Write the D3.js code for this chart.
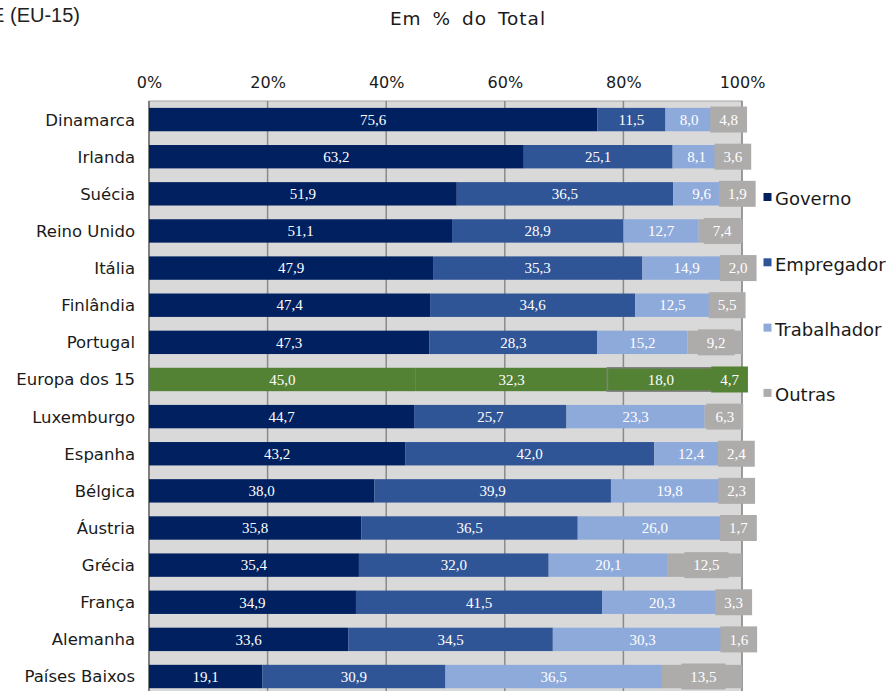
<!DOCTYPE html>
<html><head><meta charset="utf-8">
<script src="https://cdn.jsdelivr.net/npm/d3@7"></script>
<style>body{margin:0;background:#fff;}svg{display:block;}</style>
</head><body>
<svg id="chart" width="896" height="691"></svg>
<script>
const categories = ["Dinamarca","Irlanda","Suécia","Reino Unido","Itália","Finlândia","Portugal","Europa dos 15","Luxemburgo","Espanha","Bélgica","Áustria","Grécia","França","Alemanha","Países Baixos"];
const governo     = [75.6,63.2,51.9,51.1,47.9,47.4,47.3,45.0,44.7,43.2,38.0,35.8,35.4,34.9,33.6,19.1];
const empregador  = [11.5,25.1,36.5,28.9,35.3,34.6,28.3,32.3,25.7,42.0,39.9,36.5,32.0,41.5,34.5,30.9];
const trabalhador = [8.0,8.1,9.6,12.7,14.9,12.5,15.2,18.0,23.3,12.4,19.8,26.0,20.1,20.3,30.3,36.5];
const outras      = [4.8,3.6,1.9,7.4,2.0,5.5,9.2,4.7,6.3,2.4,2.3,1.7,12.5,3.3,1.6,13.5];
const seriesNames = ["Governo","Empregador","Trabalhador","Outras"];
const tickValues  = [0,20,40,60,80,100];
const highlight   = "Europa dos 15";

const colors = ["#002060","#2f5597","#8eaadb","#aeabab"];
const green = "#548235";
const sans = "'DejaVu Sans', sans-serif";
const serif = "'Liberation Serif', 'Times New Roman', serif";

const svg = d3.select("#chart");
const x = d3.scaleLinear().domain([0,100]).range([149,742]);
const y = d3.scaleBand().domain(categories).range([101, 101 + 16*37.13]).paddingInner(0.37).paddingOuter(0.185);

const rows = categories.map((c,i)=>({cat:c, vals:[governo[i],empregador[i],trabalhador[i],outras[i]]}));
const fmt = v => d3.format(".1f")(v).replace(".", ",");

// title texts (the first one is cut by the left edge, as in the reference)
svg.append("text").attr("x",80).attr("y",21.7).attr("text-anchor","end")
  .style("font-family","'Liberation Sans', Arial, sans-serif").style("font-size","20px").attr("fill","#222")
  .text("E (EU-15)");
svg.append("text").attr("x",468).attr("y",25).attr("text-anchor","middle")
  .style("font-family",sans).style("font-size","18.5px").style("letter-spacing","1px").style("word-spacing","4px")
  .attr("fill","#1a1a1a")
  .text("Em % do Total");

// plot background
const plotBottom = 101 + 16*37.13;
svg.append("rect").attr("x",x(0)).attr("y",101).attr("width",x(100)-x(0)).attr("height",plotBottom-101)
  .attr("fill","#d9d9d9").attr("stroke","#a6a6a6").attr("stroke-width",1);

// gridlines
svg.append("g").selectAll("line").data(tickValues).join("line")
  .attr("x1",d=>x(d)).attr("x2",d=>x(d)).attr("y1",101).attr("y2",plotBottom)
  .attr("stroke",d=>d===0?"#7f7f7f":"#8a8a8a").attr("stroke-width",d=>d===0?2:1.5);

// top axis
const axis = d3.axisTop(x).tickValues(tickValues).tickFormat(d=>d+"%").tickSize(0).tickPadding(0);
const ax = svg.append("g").attr("transform","translate(0,87.5)").call(axis);
ax.select(".domain").remove();
ax.selectAll("text").style("font-family",sans).style("font-size","16px").attr("fill","#1a1a1a").attr("dy",0);

// category labels
const ay = d3.axisLeft(y).tickSize(0).tickPadding(0);
const cy = svg.append("g").attr("transform","translate(135,0)").call(ay);
cy.select(".domain").remove();
cy.selectAll("text").style("font-family",sans).style("font-size","16.5px").attr("fill","#1a1a1a").attr("dy","0.36em");

// stacked bars
const segs = [];
rows.forEach(r=>{
  let acc=0;
  r.vals.forEach((v,k)=>{ segs.push({cat:r.cat,k,v,x0:acc,x1:acc+v}); acc+=v; });
});
const bh = y.bandwidth();
svg.append("g").selectAll("rect").data(segs).join("rect")
  .attr("x",d=>x(d.x0)).attr("y",d=>y(d.cat)).attr("width",d=>x(d.x1)-x(d.x0)).attr("height",bh)
  .attr("fill",d=>d.cat===highlight?green:colors[d.k])
  .attr("stroke",d=>(d.cat===highlight&&d.k===2)?"#808080":"none")
  .attr("stroke-width",1.5);

// data labels (last series gets a filled box)
const lab = svg.append("g");
segs.forEach(d=>{
  const cx = (x(d.x0)+x(d.x1))/2 + (d.k===3?1.5:0);
  const cyy = y(d.cat)+bh/2;
  const t = lab.append("text").attr("x",cx).attr("y",cyy).attr("dy","0.35em").attr("text-anchor","middle")
    .style("font-family",serif).style("font-size","15px").attr("fill","#fff").text(fmt(d.v));
  if(d.k===3){
    const w = t.node().getComputedTextLength()+18;
    lab.insert("rect", () => t.node()).attr("x",cx-w/2).attr("y",cyy-13).attr("width",w).attr("height",26)
      .attr("fill",d.cat===highlight?green:colors[3]);
  }
});

// legend
const leg = svg.append("g");
seriesNames.forEach((s,i)=>{
  const yy = 193 + i*65.3;
  leg.append("rect").attr("x",763.5).attr("y",yy).attr("width",8).attr("height",8).attr("fill",colors[i]);
  leg.append("text").attr("x",775).attr("y",yy+12.3).style("font-family",sans).style("font-size","18px").attr("fill","#1a1a1a").text(s);
});
</script>
</body></html>
